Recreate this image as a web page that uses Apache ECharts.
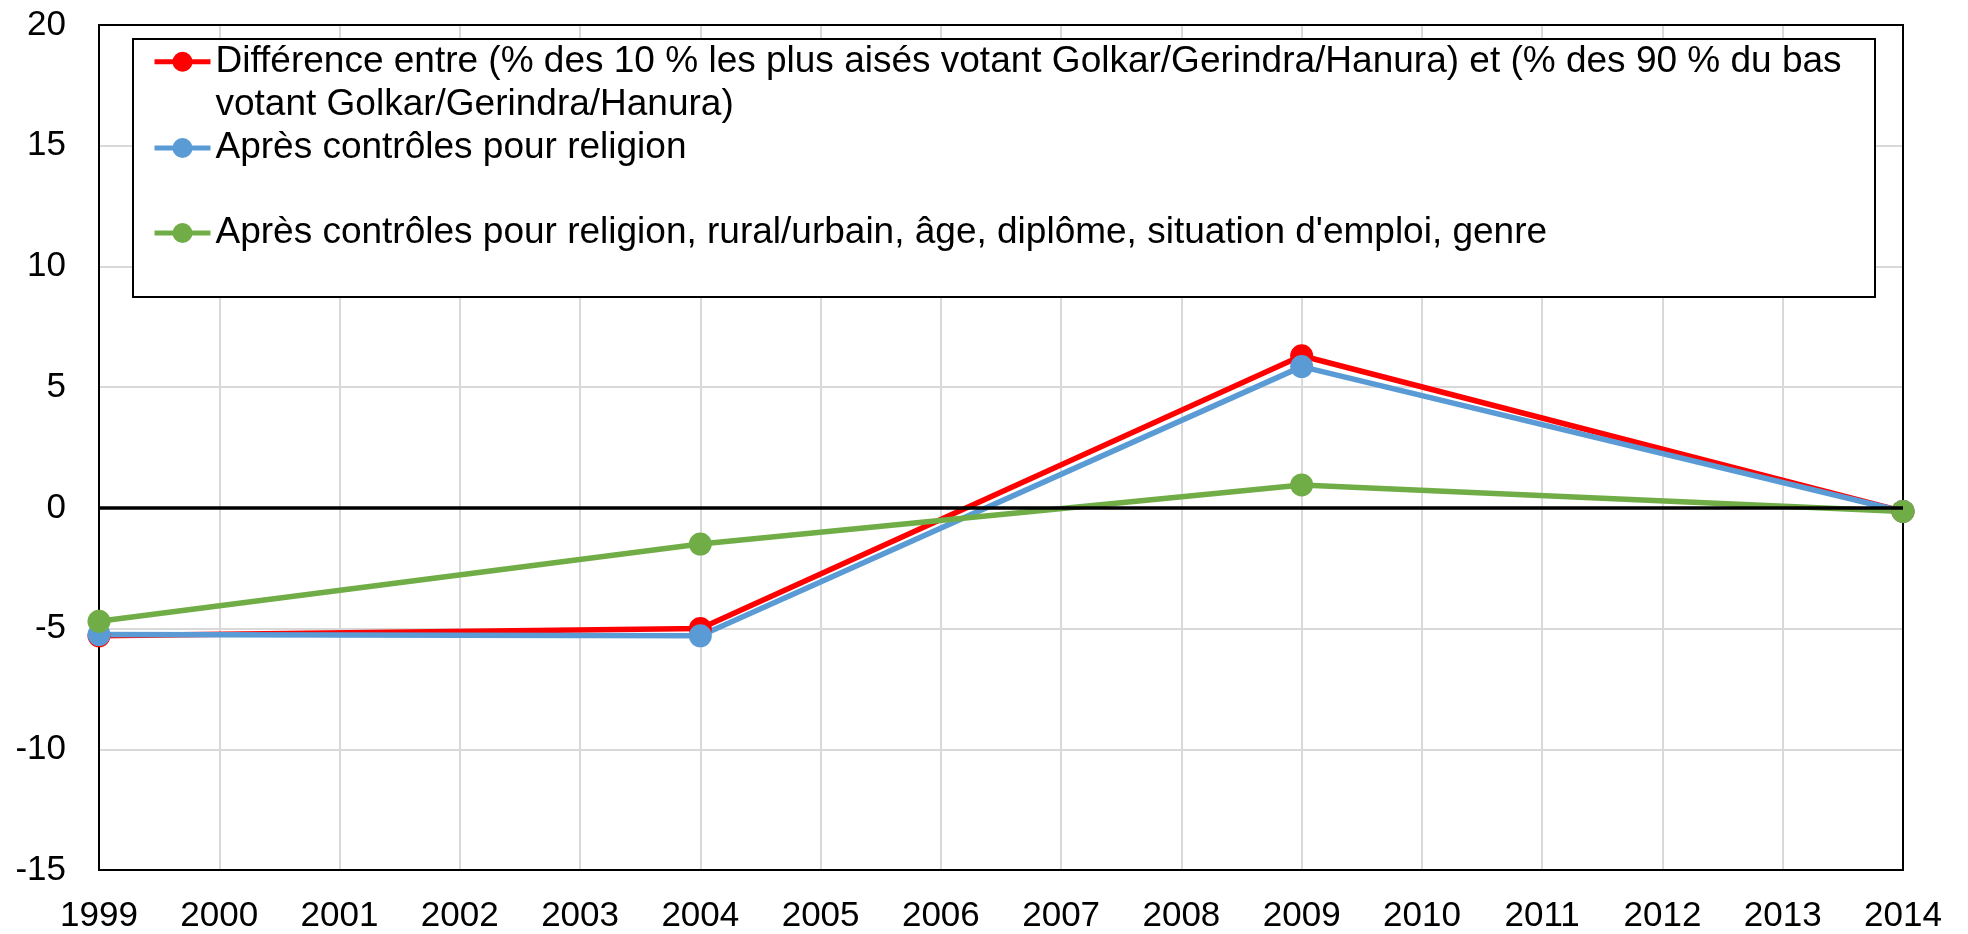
<!DOCTYPE html>
<html>
<head>
<meta charset="utf-8">
<title>Golkar/Gerindra/Hanura</title>
<script src="https://cdn.jsdelivr.net/npm/echarts@6/dist/echarts.min.js"></script>
<style>
    html, body { margin: 0; padding: 0; background: #fff; }
    #chartContainer { width: 1968px; height: 934px; }
</style>
</head>
<body>
<div id="chartContainer"></div>
<script>
// annees (axe x)
var years = ["1999", "2000", "2001", "2002", "2003", "2004", "2005", "2006", "2007",
    "2008", "2009", "2010", "2011", "2012", "2013", "2014"];
// seulement les annees d'election ont une valeur
var diffRaw = [-5.3, null, null, null, null, -5.0, null, null, null, null, 6.3, null, null, null, null, -0.15];
var diffReligion = [-5.25, null, null, null, null, -5.3, null, null, null, null, 5.85, null, null, null, null, -0.15];
var diffAllControls = [-4.7, null, null, null, null, -1.5, null, null, null, null, 0.95, null, null, null, null, -0.15];
var yTicks = [-15, -10, -5, 0, 5, 10, 15, 20];

var nameRaw = "Différence entre (% des 10 % les plus aisés votant Golkar/Gerindra/Hanura) et (% des 90 % du bas votant Golkar/Gerindra/Hanura)";
var nameReligion = "Après contrôles pour religion";
var nameAll = "Après contrôles pour religion, rural/urbain, âge, diplôme, situation d'emploi, genre";

var fontName = "'Liberation Sans', Arial, sans-serif";
var legendLine = 43;
var chart = echarts.init(document.getElementById("chartContainer"));

function makeLegend(name, top, multiLine) {
    var legend = {
        orient: "vertical",
        left: 152,
        top: top,
        padding: 0,
        itemWidth: 56,
        itemHeight: 25,
        itemGap: 0,
        data: [name],
        lineStyle: { width: 5 },
        textStyle: {
            fontFamily: fontName,
            fontSize: 37,
            lineHeight: legendLine,
            color: "#000"
        }
    };
    if (multiLine) {
        // ligne vide au debut : la premiere vraie ligne reste au niveau du symbole
        legend.formatter = function (n) {
            return "\n" + n.replace(" du bas ", " du bas\n");
        };
    }
    return legend;
}

function makeSeries(name, values, color) {
    return {
        name: name,
        type: "line",
        data: values,
        connectNulls: true,
        symbol: "circle",
        symbolSize: 23,
        lineStyle: { color: color, width: 5.5 },
        itemStyle: { color: color },
        emphasis: { disabled: true }
    };
}

var firstSeries = makeSeries(nameRaw, diffRaw, "#FF0000");
firstSeries.markLine = {
    silent: true,
    symbol: "none",
    label: { show: false },
    lineStyle: { color: "#000", width: 3.5, type: "solid" },
    data: [{ yAxis: 0 }]
};

var option = {
    animation: false,
    backgroundColor: "#fff",
    grid: {
        left: 99,
        right: 65,
        top: 25,
        bottom: 63,
        show: true,
        z: 1,
        borderColor: "#000",
        borderWidth: 2
    },
    graphic: [{
        type: "rect",
        z: 3,
        shape: { x: 133, y: 39, width: 1742, height: 258 },
        style: { fill: "#fff", stroke: "#000", lineWidth: 2 }
    }],
    legend: [
        makeLegend(nameRaw, 61.7 - legendLine * 1.5, true),
        makeLegend(nameReligion, 148 - legendLine / 2, false),
        makeLegend(nameAll, 233 - legendLine / 2, false)
    ],
    xAxis: {
        type: "category",
        data: years,
        boundaryGap: false,
        axisLine: { show: false },
        axisTick: { show: false },
        splitLine: { show: true, lineStyle: { color: "#d9d9d9", width: 2 } },
        axisLabel: {
            margin: 29,
            fontFamily: fontName,
            fontSize: 35,
            color: "#000"
        }
    },
    yAxis: {
        type: "value",
        min: yTicks[0],
        max: yTicks[yTicks.length - 1],
        interval: 5,
        axisLine: { show: false },
        axisTick: { show: false },
        splitLine: { show: true, lineStyle: { color: "#d9d9d9", width: 2 } },
        axisLabel: {
            margin: 33,
            fontFamily: fontName,
            fontSize: 35,
            color: "#000"
        }
    },
    series: [
        firstSeries,
        makeSeries(nameReligion, diffReligion, "#5B9BD5"),
        makeSeries(nameAll, diffAllControls, "#70AD47")
    ]
};

chart.setOption(option);
</script>
</body>
</html>
